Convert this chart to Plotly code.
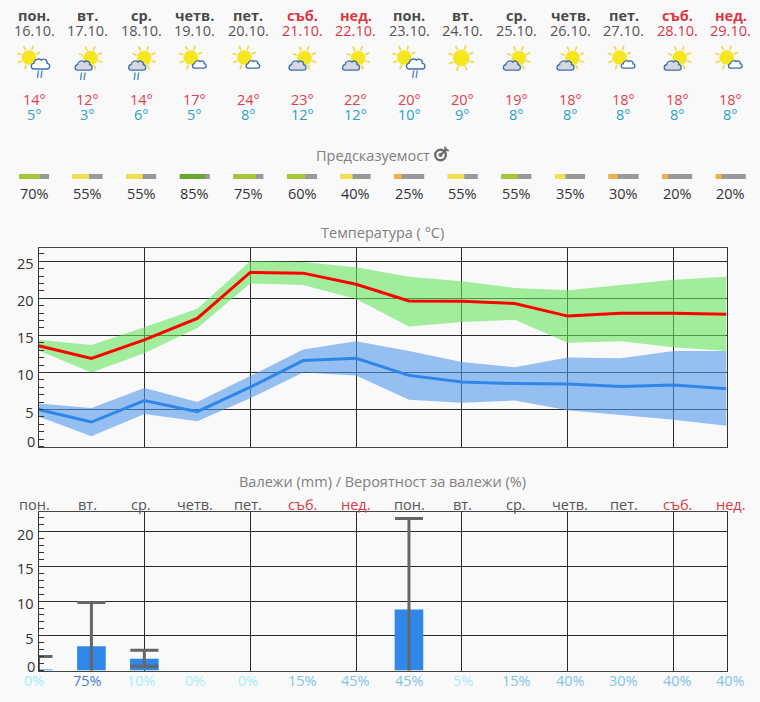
import numpy as np
import plotly.graph_objects as go

# ---------- data ----------
weekdays = ["пон.", "вт.", "ср.", "четв.", "пет.", "съб.", "нед.",
            "пон.", "вт.", "ср.", "четв.", "пет.", "съб.", "нед."]
dates = ["16.10.", "17.10.", "18.10.", "19.10.", "20.10.", "21.10.", "22.10.",
         "23.10.", "24.10.", "25.10.", "26.10.", "27.10.", "28.10.", "29.10."]
weather = ["sun_cloud_rain", "cloud_sun_rain", "cloud_sun_rain", "sun_small", "sun_small",
           "cloud_sun", "cloud_sun", "sun_cloud_rain", "sun", "cloud_sun", "cloud_sun",
           "sun_small", "cloud_sun", "sun_small"]
t_max_label = [14, 12, 14, 17, 24, 23, 22, 20, 20, 19, 18, 18, 18, 18]
t_min_label = [5, 3, 6, 5, 8, 12, 12, 10, 9, 8, 8, 8, 8, 8]
predictability = [70, 55, 55, 85, 75, 60, 40, 25, 55, 55, 35, 30, 20, 20]
pred_colors = ["#a3c737", "#f2e050", "#f2e050", "#6aa92f", "#a3c737", "#a3c737", "#f2e050",
               "#f0b045", "#f2e050", "#a3c737", "#f2e050", "#f0b045", "#f0b045", "#f0b045"]

max_mean = [13.6, 11.9, 14.4, 17.3, 23.5, 23.4, 21.9, 19.65, 19.6, 19.3, 17.6, 18.0, 18.0, 17.85]
max_high = [14.4, 13.7, 16.1, 18.6, 25.0, 24.9, 24.2, 22.9, 22.3, 21.4, 21.1, 21.8, 22.5, 22.9]
max_low = [12.95, 10.0, 12.6, 16.0, 22.0, 21.8, 19.9, 16.2, 16.8, 17.1, 14.0, 14.2, 13.4, 12.9]
min_mean = [5.0, 3.3, 6.2, 4.7, 8.0, 11.6, 11.9, 9.6, 8.7, 8.5, 8.45, 8.1, 8.3, 7.8]
min_high = [5.8, 5.2, 7.9, 6.0, 9.5, 13.1, 14.2, 12.9, 11.4, 10.7, 12.0, 11.9, 12.9, 12.9]
min_low = [4.05, 1.4, 4.4, 3.4, 6.5, 10.0, 9.6, 6.3, 5.9, 6.2, 4.9, 4.3, 3.6, 2.8]

rain_mean = [0.1, 3.5, 1.7, 0, 0, 0, 0, 8.8, 0, 0, 0, 0, 0, 0]
rain_high = [2.0, 9.8, 2.9, 0, 0, 0, 0, 21.9, 0, 0, 0, 0, 0, 0]
rain_low = [0, 0, 0.6, 0, 0, 0, 0, 0, 0, 0, 0, 0, 0, 0]
rain_prob = [0, 75, 10, 0, 0, 15, 45, 45, 5, 15, 40, 30, 40, 40]

# ---------- page geometry ----------
W, H = 760, 702
BG = "#f9f9f9"
FONT = "Open Sans"
day_x = [34 + 53.6 * i for i in range(14)]
days = list(range(14))
RED = "#dc3743"
dom_x = [38.5 / W, 726.5 / W]


def px(v):
    return v / W


def py(v):
    return 1 - v / H


fig = go.Figure()
annotations, shapes = [], []


def text(x, y, s, size=14, color="#444"):
    annotations.append(dict(x=px(x), y=py(y), xref="paper", yref="paper", text=s, showarrow=False,
                            xanchor="center", yanchor="middle",
                            font=dict(family=FONT, size=size, color=color)))


def wd_color(i, normal):
    return RED if i % 7 >= 5 else normal


def add_path(d, fill=None, line=None, width=1):
    s = dict(type="path", path=d, xref="paper", yref="paper", layer="above",
             line=dict(color=line if line else "rgba(0,0,0,0)", width=width))
    if fill:
        s["fillcolor"] = fill
    shapes.append(s)


def P(x, y):
    return f"{px(x):.5f},{py(y):.5f}"


def circle_path(cx, cy, r):
    k = 0.5523 * r
    return (f"M{P(cx + r, cy)} C{P(cx + r, cy + k)} {P(cx + k, cy + r)} {P(cx, cy + r)} "
            f"C{P(cx - k, cy + r)} {P(cx - r, cy + k)} {P(cx - r, cy)} "
            f"C{P(cx - r, cy - k)} {P(cx - k, cy - r)} {P(cx, cy - r)} "
            f"C{P(cx + k, cy - r)} {P(cx + r, cy - k)} {P(cx + r, cy)} Z")


def sun(cx, cy, r=7):
    rays = ""
    for a in np.arange(0, 360, 45) + 20:
        c, s_ = np.cos(np.radians(a)), np.sin(np.radians(a))
        rays += f"M{P(cx + c * (r + 1), cy + s_ * (r + 1))} L{P(cx + c * (r + 5.5), cy + s_ * (r + 5.5))} "
    add_path(rays, line="#f0d94e", width=1.8)
    add_path(circle_path(cx, cy, r), fill="#f5e61e", line="#f2dc30", width=0.5)


def cloud(cx, cy, fill, s=1.0):
    pts = [(-7, 6), (-11, 6), (-11, 0), (-7, -0.5), (-7, -4), (-2, -6.5), (1, -3.5),
           (3, -6), (8, -4), (7, -0.5), (11, 0), (11, 6), (7, 6)]
    q = [P(cx + a * s, cy + b * s) for a, b in pts]
    d = f"M{q[0]} "
    for i in range(1, 13, 3):
        d += f"C{q[i]} {q[i + 1]} {q[i + 2]} "
    add_path(d + "Z", fill=fill, line="#3d6db5", width=1.3)


def rain(cx, cy):
    add_path(f"M{P(cx - 1.5, cy - 3.5)} L{P(cx - 2.5, cy + 4)} M{P(cx + 2, cy - 3.5)} L{P(cx + 1, cy + 4)}",
             line="#5f8fca", width=1.5)


for xc, kind in zip(day_x, weather):
    if kind == "sun_cloud_rain":
        sun(xc - 5, 57.5)
        cloud(xc + 6.5, 63.5, "#fdfdfd", 0.92)
        rain(xc + 6, 74)
    elif kind == "cloud_sun_rain":
        sun(xc + 3, 58)
        cloud(xc - 4, 65, "#d5d8dc", 0.85)
        rain(xc - 4.5, 76)
    elif kind == "sun_small":
        sun(xc - 4, 57.5)
        cloud(xc + 4.5, 64, "#fdfdfd", 0.68)
    elif kind == "cloud_sun":
        sun(xc + 2.5, 58)
        cloud(xc - 4.5, 65, "#d5d8dc", 0.85)
    else:
        sun(xc - 1.5, 58, 8)

for i, xc in enumerate(day_x):
    text(xc, 16, f"<b>{weekdays[i]}</b>", 14.5, wd_color(i, "#4a4a4a"))
    text(xc, 30.5, dates[i], 14.5, wd_color(i, "#555"))
    text(xc, 99.5, f"{t_max_label[i]}°", 14.5, "#e0414c")
    text(xc, 114.5, f"{t_min_label[i]}°", 14.5, "#2b9fcb")
    text(xc, 193.5, f"{predictability[i]}%", 14.5, "#333")
    text(xc, 504, weekdays[i], 14.5, wd_color(i, "#555"))
    p = rain_prob[i]
    color = "#3f80c8" if p >= 60 else ("#7fc4e6" if p >= 15 else "#a6eef6")
    text(xc, 680, f"{p}%", 14.5, color)

text(372.5, 155.5, "Предсказуемост", 14.5, "#808080")
text(382.5, 232.5, "Температура ( °C)", 14.5, "#808080")
text(382.5, 481, "Валежи (mm) / Вероятност за валежи (%)", 14.5, "#808080")

# predictability target icon
add_path(circle_path(440.5, 155, 5.3), line="#6c6c6c", width=2.4)
add_path(circle_path(440.5, 155, 2), fill="#6c6c6c")
add_path(f"M{P(441, 154.5)} L{P(447, 148.5)}", line="#6c6c6c", width=2)
add_path(f"M{P(445, 146.5)} L{P(445, 150.5)} L{P(449, 150.5)}", line="#6c6c6c", width=1.5)

# ---------- temperature ----------
fig.add_trace(go.Scatter(x=days, y=max_low, mode="lines", line=dict(width=0), showlegend=False, hoverinfo="skip"))
fig.add_trace(go.Scatter(x=days, y=max_high, mode="lines", line=dict(width=0), fill="tonexty",
                         fillcolor="rgba(102,229,94,0.6)", showlegend=False, hoverinfo="skip"))
fig.add_trace(go.Scatter(x=days, y=min_low, mode="lines", line=dict(width=0), showlegend=False, hoverinfo="skip"))
fig.add_trace(go.Scatter(x=days, y=min_high, mode="lines", line=dict(width=0), fill="tonexty",
                         fillcolor="rgba(81,152,234,0.6)", showlegend=False, hoverinfo="skip"))
fig.add_trace(go.Scatter(x=days, y=max_mean, mode="lines", line=dict(color="#ff0000", width=3), showlegend=False))
fig.add_trace(go.Scatter(x=days, y=min_mean, mode="lines", line=dict(color="#2e86e8", width=3), showlegend=False))

# ---------- precipitation (dry days carry no bar and no whisker) ----------
rain_mean_a, rain_high_a, rain_low_a = map(np.array, (rain_mean, rain_high, rain_low))
wet = rain_mean_a > 0
# a whisker reaching zero shows no lower cap in the reference, so its cap is pushed under the clipped axis edge
lower = rain_mean_a - rain_low_a + np.where(rain_low_a == 0, 0.5, 0)
fig.add_trace(go.Bar(x=np.array(days)[wet].tolist(), y=rain_mean_a[wet].tolist(), width=0.54,
                     marker=dict(color="#2f87e9", line=dict(width=0)),
                     error_y=dict(type="data", symmetric=False,
                                  array=(rain_high_a - rain_mean_a)[wet].tolist(),
                                  arrayminus=lower[wet].tolist(),
                                  color="#666666", thickness=3, width=14),
                     xaxis="x2", yaxis="y2", showlegend=False))

# ---------- predictability bars, on a hidden page-sized axis pair ----------
fig.add_trace(go.Bar(y=[176.5] * 14, x=[30] * 14, base=[v - 15 for v in day_x], orientation="h", width=5,
                     marker=dict(color="#999999", line=dict(width=0)), xaxis="x3", yaxis="y3", showlegend=False))
fig.add_trace(go.Bar(y=[176.5] * 14, x=[0.3 * v for v in predictability], base=[v - 15 for v in day_x],
                     orientation="h", width=5, marker=dict(color=pred_colors, line=dict(width=0)),
                     xaxis="x3", yaxis="y3", showlegend=False))

GRID = "#2a2a2a"


def xax(anchor):
    return dict(domain=dom_x, range=[0, 13], anchor=anchor, tickvals=list(range(2, 13, 2)), showticklabels=False,
                ticks="", showgrid=True, gridcolor=GRID, gridwidth=1, zeroline=False,
                showline=True, linecolor="#444", linewidth=1, mirror=True)


def yax(anchor, dom, rng, vals):
    return dict(domain=dom, range=rng, anchor=anchor, tickvals=vals, ticks="", showgrid=True, gridcolor=GRID,
                gridwidth=1, zeroline=False, showline=True, linecolor="#333", linewidth=1, mirror=True,
                tickfont=dict(family=FONT, size=14.5, color="#333"), ticklabelshift=3, ticklabelstandoff=1,
                minor=dict(dtick=1, tick0=0, ticks="inside", ticklen=5, tickcolor="#333", tickwidth=1, showgrid=False))


# the zero labels sit higher than the axis zero in the reference
text(31, 441.5, "0", 14.5, "#333")
text(31, 666, "0", 14.5, "#333")

fig.update_layout(
    width=W, height=H, margin=dict(l=0, r=0, t=0, b=0), autosize=False,
    paper_bgcolor=BG, plot_bgcolor="rgba(0,0,0,0)", barmode="overlay", hovermode=False,
    annotations=annotations, shapes=shapes,
    xaxis=xax("y"),
    yaxis=yax("x", [py(446.5), py(247.5)], [0, 26.86], [5, 10, 15, 20, 25]),
    xaxis2=xax("y2"),
    yaxis2=yax("x2", [py(670.5), py(511.5)], [0, 22.9], [5, 10, 15, 20]),
    xaxis3=dict(domain=[0, 1], range=[0, W], anchor="y3", visible=False, fixedrange=True),
    yaxis3=dict(domain=[0, 1], range=[H, 0], anchor="x3", visible=False, fixedrange=True),
)

fig.write_html("out.html", config=dict(displayModeBar=False),
               post_script="document.body.style.margin='0';document.body.style.background='#f9f9f9';"
                           "document.documentElement.style.overflow='hidden';")
